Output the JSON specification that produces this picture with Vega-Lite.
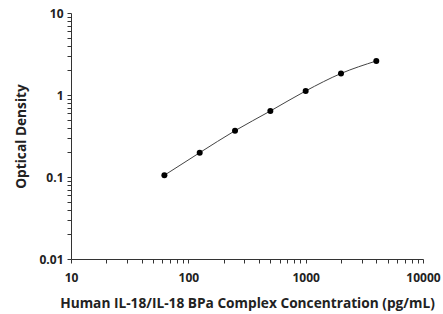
{
  "$schema": "https://vega.github.io/schema/vega-lite/v6.json",
  "width": 352,
  "height": 246,
  "autosize": {"type": "none"},
  "padding": {"left": 71, "top": 13, "right": 20, "bottom": 55},
  "background": "white",
  "config": {
    "view": {"stroke": null},
    "font": "Open Sans",
    "axis": {
      "grid": false,
      "domainColor": "#333333",
      "tickColor": "#333333",
      "tickSize": 4,
      "labelFont": "Open Sans",
      "labelFontWeight": "bold",
      "labelFontSize": 12,
      "labelColor": "#222222",
      "titleFont": "Open Sans",
      "titleFontWeight": "bold",
      "titleFontSize": 13.7,
      "titleColor": "#222222",
      "labelOverlap": false,
      "labelBound": false,
      "labelFlush": false
    }
  },
  "data": {
    "values": [
      {"conc": 62.5, "od": 0.105},
      {"conc": 125, "od": 0.198},
      {"conc": 250, "od": 0.367},
      {"conc": 500, "od": 0.638},
      {"conc": 1000, "od": 1.12},
      {"conc": 2000, "od": 1.83},
      {"conc": 4000, "od": 2.6}
    ]
  },
  "encoding": {
    "x": {
      "field": "conc",
      "type": "quantitative",
      "scale": {"type": "log", "domain": [10, 10000], "nice": false},
      "axis": {
        "title": "Human IL-18/IL-18 BPa Complex Concentration (pg/mL)",
        "values": [10,20,30,40,50,60,70,80,90,100,200,300,400,500,600,700,800,900,1000,2000,3000,4000,5000,6000,7000,8000,9000,10000],
        "format": "~g",
        "labelExpr": "indexof([10,100,1000,10000], datum.value) >= 0 ? datum.label : ''",
        "labelPadding": 9,
        "titlePadding": 13
      }
    },
    "y": {
      "field": "od",
      "type": "quantitative",
      "scale": {"type": "log", "domain": [0.01, 10], "nice": false},
      "axis": {
        "title": "Optical Density",
        "values": [0.01,0.02,0.03,0.04,0.05,0.06,0.07,0.08,0.09,0.1,0.2,0.3,0.4,0.5,0.6,0.7,0.8,0.9,1,2,3,4,5,6,7,8,9,10],
        "format": "~g",
        "labelExpr": "indexof([0.01,0.1,1,10], datum.value) >= 0 ? datum.label : ''",
        "labelPadding": 4,
        "titlePadding": 10
      }
    }
  },
  "layer": [
    {"mark": {"type": "line", "interpolate": "monotone", "color": "#444444", "strokeWidth": 1}},
    {"mark": {"type": "point", "filled": true, "color": "black", "size": 36, "opacity": 1}}
  ]
}
